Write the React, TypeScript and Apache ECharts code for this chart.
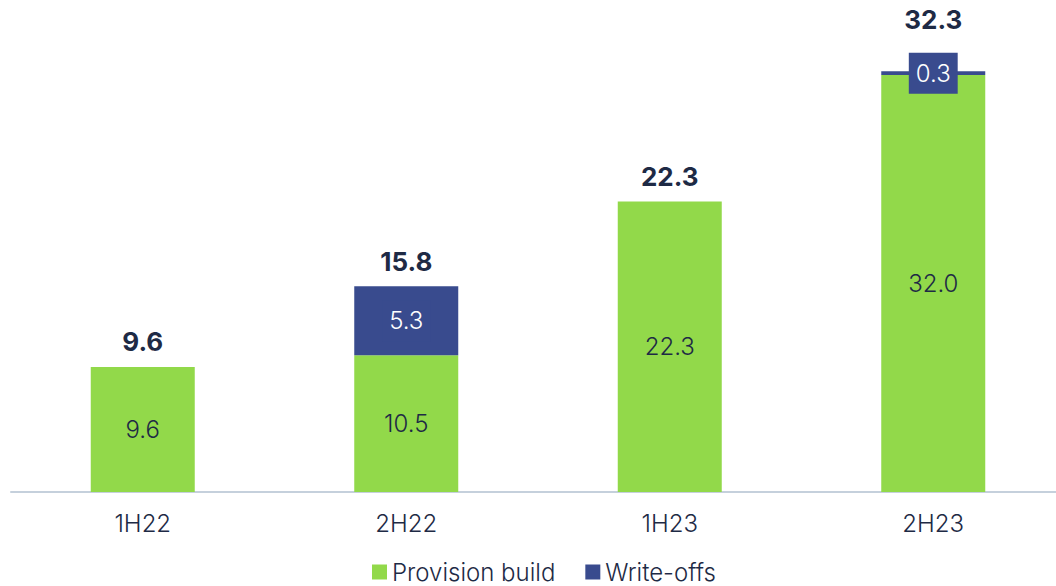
import React, { useEffect, useRef } from "react";
import * as echarts from "echarts";

const categories = ["1H22", "2H22", "1H23", "2H23"];
const provisionBuild = [9.6, 10.5, 22.3, 32.0];
const writeOffs = [0, 5.3, 0, 0.3];
const totals = [9.6, 15.8, 22.3, 32.3];

const GREEN = "#92D94A";
const BLUE = "#394B8E";
const TEXT = "#1E2A45";
const FONT = "Inter, 'Open Sans', sans-serif";

export default function App() {
  const ref = useRef<HTMLDivElement>(null);
  useEffect(() => {
    const chart = echarts.init(ref.current!, null, { renderer: "svg" });
    chart.setOption({
      animation: false,
      textStyle: { fontFamily: FONT },
      grid: { left: 11, right: 0, top: 36, bottom: 94, containLabel: false },
      legend: {
        top: 555,
        left: 367,
        itemWidth: 15,
        itemHeight: 15,
        itemGap: 30,
        icon: "rect",
        textStyle: { fontSize: 24, color: TEXT, fontWeight: 300, fontFamily: FONT },
        data: ["Provision build", "Write-offs"],
      },
      xAxis: {
        type: "category",
        data: categories,
        axisLine: { lineStyle: { color: "#C5D0DC", width: 2 } },
        axisTick: { show: false },
        axisLabel: { fontSize: 24, color: TEXT, fontWeight: 300, margin: 19, fontFamily: FONT },
      },
      yAxis: { type: "value", min: 0, max: 35, show: false, splitLine: { show: false } },
      series: [
        {
          name: "Provision build",
          type: "bar",
          stack: "a",
          barWidth: 104,
          itemStyle: { color: GREEN },
          data: provisionBuild,
          label: {
            show: true,
            position: "inside",
            fontSize: 24,
            fontWeight: 300,
            color: TEXT,
            fontFamily: FONT,
            formatter: (p: any) => Number(p.value).toFixed(1),
          },
        },
        {
          name: "Write-offs",
          type: "bar",
          stack: "a",
          barWidth: 104,
          itemStyle: { color: BLUE },
          data: writeOffs.map((v) => (v === 0 ? "-" : v)),
          label: {
            show: true,
            position: "inside",
            fontSize: 24,
            fontWeight: 300,
            color: "#FFFFFF",
            backgroundColor: BLUE,
            padding: [9, 7, 8, 7],
            fontFamily: FONT,
            formatter: (p: any) => Number(p.value).toFixed(1),
          },
        },
        {
          name: "Total",
          type: "scatter",
          symbolSize: 0,
          silent: true,
          itemStyle: { opacity: 1 },
          data: totals.map((v, i) =>
            i === totals.length - 1 ? { value: v, label: { offset: [0, -27] } } : v
          ),
          label: {
            show: true,
            position: "top",
            distance: 12,
            fontSize: 26,
            fontWeight: 700,
            color: TEXT,
            opacity: 1,
            fontFamily: FONT,
            formatter: (p: any) => Number(p.value).toFixed(1),
          },
        },
      ],
    });
    return () => chart.dispose();
  }, []);
  return (
    <div
      ref={ref}
      style={{ position: "fixed", left: 0, top: 0, width: 1065, height: 586, background: "#fff" }}
    />
  );
}
